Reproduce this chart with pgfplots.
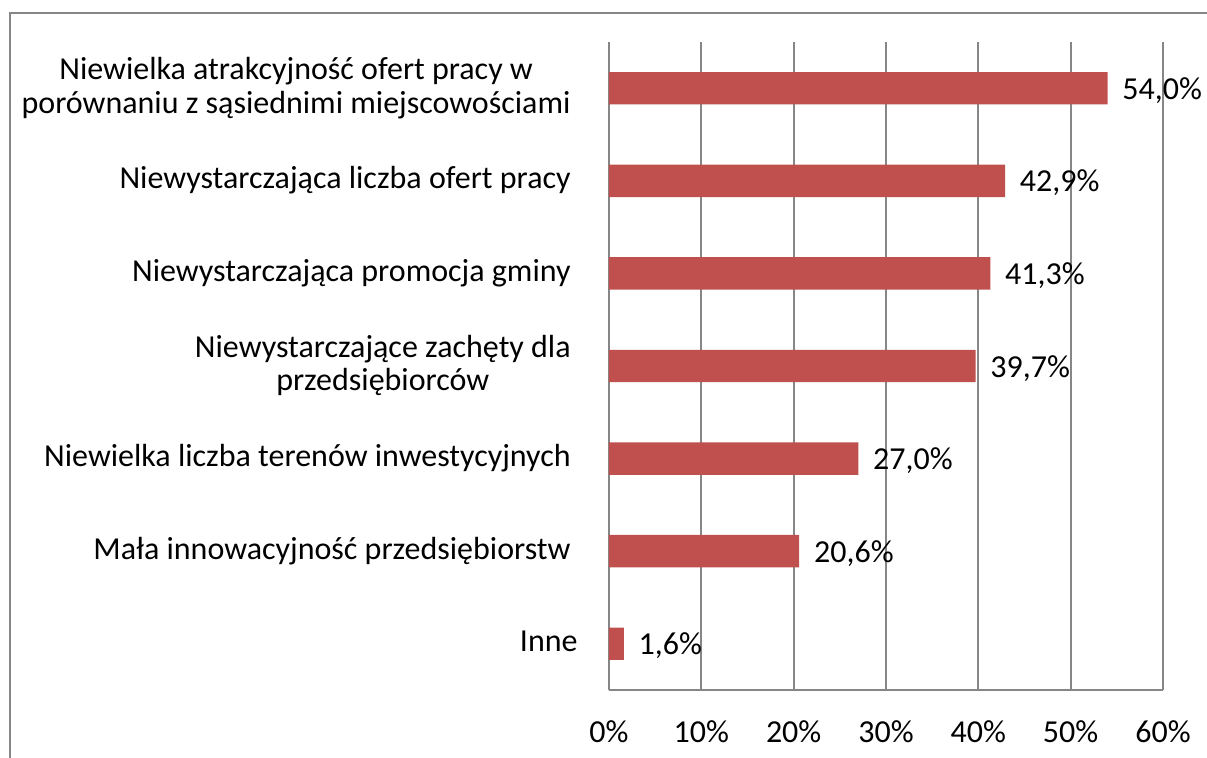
\documentclass[border=0pt]{standalone}
\usepackage{fontspec}
\setmainfont{Carlito}
\usepackage{pgfplots}
\pgfplotsset{compat=1.18}
\definecolor{barred}{HTML}{C0504D}
\definecolor{gridgray}{HTML}{868686}
\newcommand\s{\rule[-4pt]{0pt}{16pt}}
\begin{document}
\begin{tikzpicture}[font=\fontsize{16pt}{16.8pt}\selectfont]
\useasboundingbox (0,0) rectangle (603.5pt,379pt);
\draw[gridgray, line width=1pt] (4.75pt,-5pt) -- (4.75pt,372.5pt) -- (610pt,372.5pt);
\begin{axis}[
  at={(304.5pt,34pt)}, anchor=south west,
  scale only axis, width=277pt, height=324pt,
  xbar, bar width=0.35,
  xmin=0, xmax=60, ymin=-0.5, ymax=6.5,
  y dir=reverse,
  xtick={0,10,20,30,40,50,60},
  xticklabels={0\%,10\%,20\%,30\%,40\%,50\%,60\%},
  ytick={0,1,2,3,4,5,6},
  yticklabels={{\s Niewielka atrakcyjność ofert pracy w\\\s porównaniu z sąsiednimi miejscowościami},
    {\s Niewystarczająca liczba ofert pracy},
    {\s Niewystarczająca promocja gminy},
    {\s Niewystarczające zachęty dla\\\s przedsiębiorców},
    {\s Niewielka liczba terenów inwestycyjnych},
    {\s Mała innowacyjność przedsiębiorstw},
    {\s Inne\hspace*{-3.5pt}}},
  yticklabel style={align=center, anchor=east, inner sep=0pt, xshift=-19pt},
  xticklabel style={text height=12pt, text depth=4pt, anchor=north, inner sep=0pt, yshift=-14pt},
  tick label style={font=\fontsize{16pt}{16.8pt}\selectfont},
  major tick length=0pt,
  axis x line*=bottom, axis y line*=left,
  axis line style={draw=gridgray, line width=1pt, -},
  xmajorgrids, grid style={draw=gridgray, line width=1pt},
  point meta=x,
  /pgf/number format/assume math mode=true,
  nodes near coords={\pgfmathprintnumber[fixed,fixed zerofill,precision=1,use comma]{\pgfplotspointmeta}\%},
  nodes near coords style={anchor=base west, inner sep=0pt, xshift=7.25pt, yshift=-5.5pt, font=\fontsize{16pt}{16.8pt}\selectfont, text=black},
  clip=false,
]
\addplot[fill=barred, draw=none] coordinates {
  (54.0,0) (42.9,1) (41.3,2) (39.7,3) (27.0,4) (20.6,5) (1.6,6)
};
\end{axis}
\end{tikzpicture}
\end{document}
